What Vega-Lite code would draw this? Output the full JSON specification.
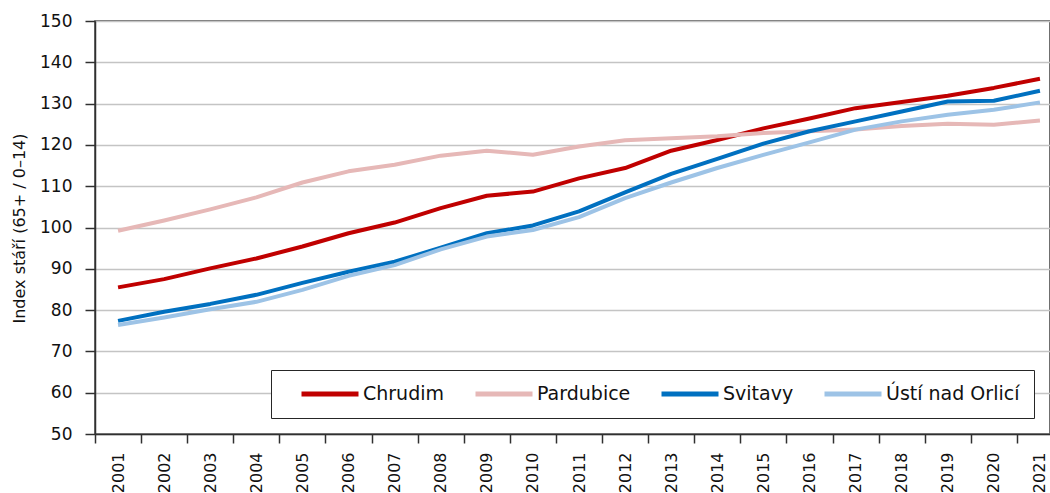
{
  "$schema": "https://vega.github.io/schema/vega-lite/v6.json",
  "width": 955,
  "height": 413,
  "autosize": {"type": "none"},
  "padding": {"left": 95, "top": 21, "right": 0, "bottom": 59},
  "background": "white",
  "config": {"view": {"stroke": "#404040", "strokeWidth": 1.5}, "font": "DejaVu Sans"},
  "data": {"values": [
    {"year": "2001", "region": "Chrudim", "value": 85.5},
    {"year": "2002", "region": "Chrudim", "value": 87.5},
    {"year": "2003", "region": "Chrudim", "value": 90.1},
    {"year": "2004", "region": "Chrudim", "value": 92.5},
    {"year": "2005", "region": "Chrudim", "value": 95.4},
    {"year": "2006", "region": "Chrudim", "value": 98.6},
    {"year": "2007", "region": "Chrudim", "value": 101.2},
    {"year": "2008", "region": "Chrudim", "value": 104.7},
    {"year": "2009", "region": "Chrudim", "value": 107.7},
    {"year": "2010", "region": "Chrudim", "value": 108.7},
    {"year": "2011", "region": "Chrudim", "value": 111.9},
    {"year": "2012", "region": "Chrudim", "value": 114.4},
    {"year": "2013", "region": "Chrudim", "value": 118.6},
    {"year": "2014", "region": "Chrudim", "value": 121.2},
    {"year": "2015", "region": "Chrudim", "value": 124.0},
    {"year": "2016", "region": "Chrudim", "value": 126.4},
    {"year": "2017", "region": "Chrudim", "value": 128.9},
    {"year": "2018", "region": "Chrudim", "value": 130.4},
    {"year": "2019", "region": "Chrudim", "value": 131.9},
    {"year": "2020", "region": "Chrudim", "value": 133.8},
    {"year": "2021", "region": "Chrudim", "value": 136.0},
    {"year": "2001", "region": "Pardubice", "value": 99.2},
    {"year": "2002", "region": "Pardubice", "value": 101.7},
    {"year": "2003", "region": "Pardubice", "value": 104.4},
    {"year": "2004", "region": "Pardubice", "value": 107.3},
    {"year": "2005", "region": "Pardubice", "value": 110.9},
    {"year": "2006", "region": "Pardubice", "value": 113.6},
    {"year": "2007", "region": "Pardubice", "value": 115.2},
    {"year": "2008", "region": "Pardubice", "value": 117.4},
    {"year": "2009", "region": "Pardubice", "value": 118.6},
    {"year": "2010", "region": "Pardubice", "value": 117.6},
    {"year": "2011", "region": "Pardubice", "value": 119.6},
    {"year": "2012", "region": "Pardubice", "value": 121.1},
    {"year": "2013", "region": "Pardubice", "value": 121.6},
    {"year": "2014", "region": "Pardubice", "value": 122.1},
    {"year": "2015", "region": "Pardubice", "value": 122.9},
    {"year": "2016", "region": "Pardubice", "value": 123.3},
    {"year": "2017", "region": "Pardubice", "value": 123.7},
    {"year": "2018", "region": "Pardubice", "value": 124.6},
    {"year": "2019", "region": "Pardubice", "value": 125.1},
    {"year": "2020", "region": "Pardubice", "value": 124.9},
    {"year": "2021", "region": "Pardubice", "value": 125.9},
    {"year": "2001", "region": "Svitavy", "value": 77.4},
    {"year": "2002", "region": "Svitavy", "value": 79.6},
    {"year": "2003", "region": "Svitavy", "value": 81.5},
    {"year": "2004", "region": "Svitavy", "value": 83.7},
    {"year": "2005", "region": "Svitavy", "value": 86.6},
    {"year": "2006", "region": "Svitavy", "value": 89.3},
    {"year": "2007", "region": "Svitavy", "value": 91.7},
    {"year": "2008", "region": "Svitavy", "value": 95.1},
    {"year": "2009", "region": "Svitavy", "value": 98.6},
    {"year": "2010", "region": "Svitavy", "value": 100.5},
    {"year": "2011", "region": "Svitavy", "value": 103.9},
    {"year": "2012", "region": "Svitavy", "value": 108.5},
    {"year": "2013", "region": "Svitavy", "value": 113.0},
    {"year": "2014", "region": "Svitavy", "value": 116.6},
    {"year": "2015", "region": "Svitavy", "value": 120.3},
    {"year": "2016", "region": "Svitavy", "value": 123.3},
    {"year": "2017", "region": "Svitavy", "value": 125.7},
    {"year": "2018", "region": "Svitavy", "value": 128.1},
    {"year": "2019", "region": "Svitavy", "value": 130.5},
    {"year": "2020", "region": "Svitavy", "value": 130.7},
    {"year": "2021", "region": "Svitavy", "value": 133.1},
    {"year": "2001", "region": "Ústí nad Orlicí", "value": 76.4},
    {"year": "2002", "region": "Ústí nad Orlicí", "value": 78.2},
    {"year": "2003", "region": "Ústí nad Orlicí", "value": 80.2},
    {"year": "2004", "region": "Ústí nad Orlicí", "value": 82.0},
    {"year": "2005", "region": "Ústí nad Orlicí", "value": 84.9},
    {"year": "2006", "region": "Ústí nad Orlicí", "value": 88.3},
    {"year": "2007", "region": "Ústí nad Orlicí", "value": 90.9},
    {"year": "2008", "region": "Ústí nad Orlicí", "value": 94.7},
    {"year": "2009", "region": "Ústí nad Orlicí", "value": 97.8},
    {"year": "2010", "region": "Ústí nad Orlicí", "value": 99.4},
    {"year": "2011", "region": "Ústí nad Orlicí", "value": 102.5},
    {"year": "2012", "region": "Ústí nad Orlicí", "value": 107.1},
    {"year": "2013", "region": "Ústí nad Orlicí", "value": 110.9},
    {"year": "2014", "region": "Ústí nad Orlicí", "value": 114.4},
    {"year": "2015", "region": "Ústí nad Orlicí", "value": 117.6},
    {"year": "2016", "region": "Ústí nad Orlicí", "value": 120.6},
    {"year": "2017", "region": "Ústí nad Orlicí", "value": 123.7},
    {"year": "2018", "region": "Ústí nad Orlicí", "value": 125.7},
    {"year": "2019", "region": "Ústí nad Orlicí", "value": 127.3},
    {"year": "2020", "region": "Ústí nad Orlicí", "value": 128.5},
    {"year": "2021", "region": "Ústí nad Orlicí", "value": 130.3}
  ]},
  "mark": {"type": "line", "strokeWidth": 4, "strokeJoin": "round"},
  "encoding": {
    "x": {
      "field": "year", "type": "ordinal", "bandPosition": 0.5,
      "scale": {"type": "band", "range": [0, 968], "paddingInner": 0, "paddingOuter": 0},
      "axis": {
        "title": null, "tickBand": "extent", "labelAngle": -90, "labelAlign": "right", "labelBaseline": "middle",
        "tickSize": 9, "tickWidth": 1.5, "tickColor": "#303030", "domainColor": "#303030", "domainWidth": 1.5,
        "labelPadding": 9, "labelFontSize": 16, "labelColor": "#111111", "grid": false
      }
    },
    "y": {
      "field": "value", "type": "quantitative",
      "scale": {"domain": [50, 150], "nice": false, "zero": false},
      "axis": {
        "values": [50, 60, 70, 80, 90, 100, 110, 120, 130, 140, 150],
        "title": "Index stáří (65+ / 0–14)", "titleFontSize": 16, "titleFontWeight": "normal", "titleColor": "#111111",
        "titleX": -76, "titleY": 207, "titleAngle": -90, "titleBaseline": "middle", "titleAlign": "center",
        "tickSize": 10, "tickWidth": 1.5, "tickColor": "#303030", "domainColor": "#303030", "domainWidth": 1.5,
        "labelPadding": 13, "labelFontSize": 17, "labelColor": "#111111",
        "grid": true, "gridColor": "#C4C4C4", "gridWidth": 1.5
      }
    },
    "color": {
      "field": "region", "type": "nominal",
      "scale": {"domain": ["Chrudim", "Pardubice", "Svitavy", "Ústí nad Orlicí"], "range": ["#C00000", "#E6B8B7", "#0070C0", "#9DC3E6"]},
      "legend": {
        "orient": "none", "legendX": 176, "legendY": 349, "direction": "horizontal", "title": null,
        "symbolType": "stroke", "symbolSize": 3249, "symbolStrokeWidth": 5,
        "symbolOffset": 14, "labelOffset": 2, "columnPadding": 14, "padding": 14, "clipHeight": 20,
        "labelFontSize": 19, "labelColor": "#111111",
        "strokeColor": "#262626", "fillColor": "white"
      }
    }
  }
}
